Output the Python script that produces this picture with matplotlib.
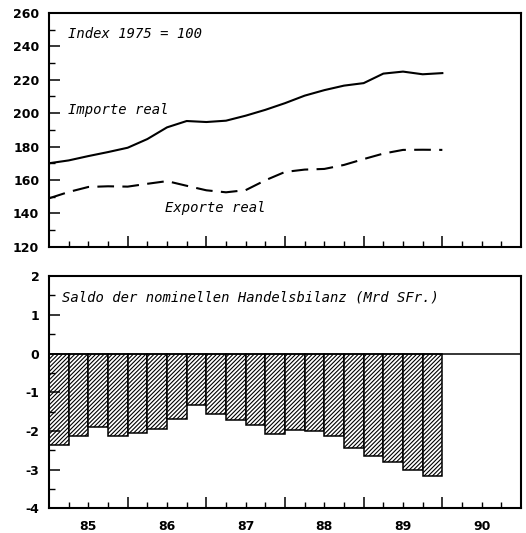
import matplotlib
matplotlib.use("Agg")
import matplotlib.pyplot as plt
import numpy as np

# ---- data ----
quarters = [1985.0 + 0.25 * i for i in range(21)]
imports_real = [170.0, 171.7, 174.3, 176.7, 179.3, 184.5, 191.5, 195.3, 194.7, 195.5,
                198.5, 202.0, 206.0, 210.5, 213.8, 216.5, 218.0, 223.7, 224.9, 223.3, 224.0]
exports_real = [149.0, 152.8, 155.8, 156.2, 156.0, 157.7, 159.3, 156.5, 153.8, 152.6,
                153.9, 159.8, 164.8, 166.2, 166.6, 169.0, 172.5, 175.8, 178.0, 178.1, 178.0]

bar_starts = [1985.0 + 0.25 * i for i in range(20)]
saldo = [-2.35, -2.12, -1.89, -2.12, -2.05, -1.95, -1.69, -1.32, -1.55, -1.71,
         -1.85, -2.08, -1.97, -2.01, -2.12, -2.45, -2.65, -2.79, -3.00, -3.15]

year_labels = ["85", "86", "87", "88", "89", "90"]
year_mids = [1985.5, 1986.5, 1987.5, 1988.5, 1989.5, 1990.5]

top_ticks = [120, 140, 160, 180, 200, 220, 240, 260]
bot_ticks = [-4, -3, -2, -1, 0, 1, 2]

plt.rcParams['hatch.linewidth'] = 0.8
plt.rcParams['axes.unicode_minus'] = False

fig = plt.figure(figsize=(5.26, 5.33), dpi=100)
ax1 = fig.add_axes([0.0932, 0.5371, 0.8973, 0.4385])
ax2 = fig.add_axes([0.0932, 0.0460, 0.8973, 0.4360])

mono_it = dict(family="DejaVu Sans Mono", style="italic", fontsize=10)

def style_axes(ax):
    for s in ax.spines.values():
        s.set_linewidth(1.5)
    ax.set_xlim(1985, 1991)
    ax.set_xticks(np.arange(1985, 1992, 1))
    ax.set_xticks(np.arange(1985, 1991.01, 0.25), minor=True)
    ax.tick_params(axis="both", which="major", direction="in", length=8, width=1.1)
    ax.tick_params(axis="both", which="minor", direction="in", length=4, width=1.0)
    ax.tick_params(axis="x", which="both", labelbottom=False)
    ax.tick_params(axis="y", which="major", pad=7)

# ---- top panel ----
ax1.plot(quarters, imports_real, color="black", lw=1.5)
ax1.plot(quarters, exports_real, color="black", lw=1.5, linestyle=(0, (8, 4)))
ax1.set_ylim(120, 260)
ax1.set_yticks(top_ticks, labels=[str(v) for v in top_ticks], fontsize=9, fontweight="bold")
ax1.set_yticks(np.arange(120, 261, 10), minor=True)
style_axes(ax1)
ax1.text(1985.24, 247.4, "Index 1975 = 100", va="center", ha="left", **mono_it)
ax1.text(1985.24, 202.0, "Importe real", va="center", ha="left", **mono_it)
ax1.text(1986.48, 143.0, "Exporte real", va="center", ha="left", **mono_it)

# ---- bottom panel ----
ax2.bar(bar_starts, saldo, width=0.25, align="edge", facecolor="white",
        edgecolor="black", linewidth=1.1, hatch="/" * 8)
ax2.axhline(0, color="black", lw=1.1)
ax2.set_ylim(-4, 2)
ax2.set_yticks(bot_ticks, labels=[str(v) for v in bot_ticks], fontsize=9, fontweight="bold")
ax2.set_yticks(np.arange(-4, 2.01, 0.5), minor=True)
style_axes(ax2)
ax2.text(1985.165, 1.44, "Saldo der nominellen Handelsbilanz (Mrd SFr.)",
         va="center", ha="left", **mono_it)

sec = ax2.secondary_xaxis("bottom")
sec.set_xticks(year_mids)
sec.set_xticklabels(year_labels, fontsize=9, fontweight="bold")
sec.tick_params(length=0, pad=8)
sec.spines["bottom"].set_visible(False)

fig.savefig("out.png", dpi=100)
